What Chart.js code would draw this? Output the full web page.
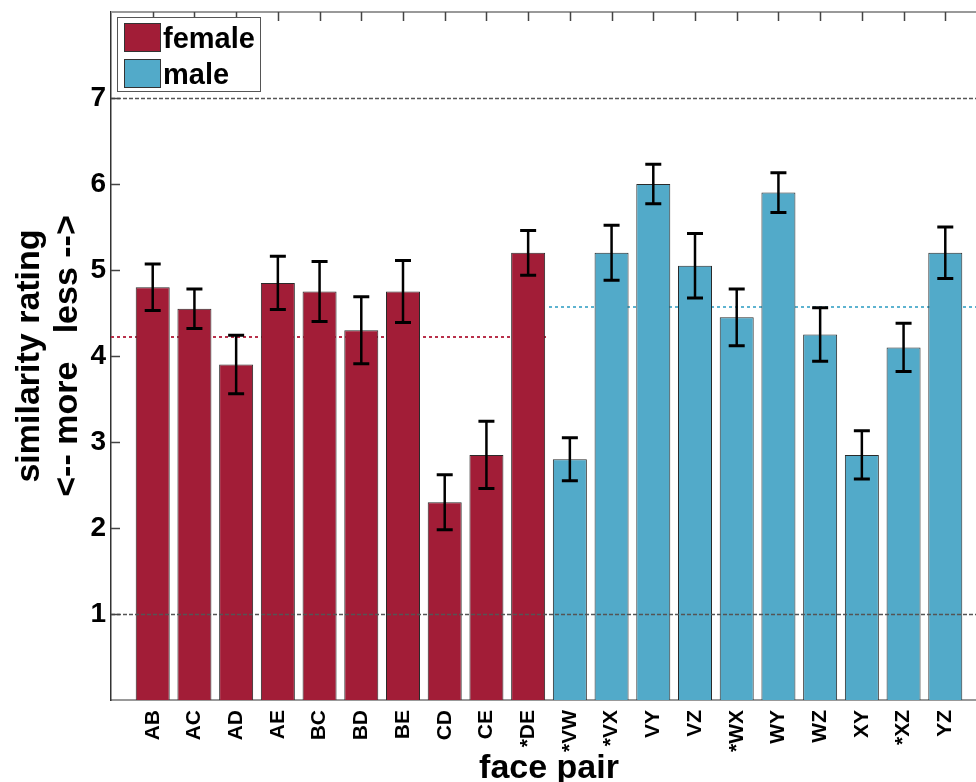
<!DOCTYPE html>
<html>
<head>
<meta charset="utf-8">
<title>face pair similarity</title>
<script src="https://cdn.jsdelivr.net/npm/chart.js@4"></script>
<style>
  html, body { margin: 0; padding: 0; background: #fff; overflow: hidden; }
  #wrap { width: 976px; height: 782px; overflow: hidden; }
</style>
</head>
<body>
<div id="wrap"><canvas id="chart" width="1000" height="800"></canvas></div>
<script>
// face pairs, one group per gender
const femalePairs = ["AB", "AC", "AD", "AE", "BC", "BD", "BE", "CD", "CE", "*DE"];
const malePairs = ["*VW", "*VX", "VY", "VZ", "*WX", "WY", "WZ", "XY", "*XZ", "YZ"];

// mean rating and standard error for each pair
const femaleMeans = [4.8, 4.55, 3.9, 4.85, 4.75, 4.3, 4.75, 2.3, 2.85, 5.2];
const femaleErr = [0.27, 0.23, 0.34, 0.31, 0.35, 0.39, 0.36, 0.32, 0.39, 0.26];
const maleMeans = [2.8, 5.2, 6.0, 5.05, 4.45, 5.9, 4.25, 2.85, 4.1, 5.2];
const maleErr = [0.25, 0.32, 0.23, 0.375, 0.33, 0.23, 0.31, 0.28, 0.28, 0.30];

// group averages (dotted lines) and the scale end points
const femaleAvg = 4.22;
const maleAvg = 4.57;
const refLines = [1, 7];
const yTicks = [1, 2, 3, 4, 5, 6, 7];

const pairs = femalePairs.concat(malePairs);
const RED = "#a21d37";
const BLUE = "#52aac9";

Chart.defaults.font.family = "'Liberation Sans', Arial, sans-serif";
Chart.defaults.font.weight = "bold";
Chart.defaults.color = "#000";

function toPoints(vals, start) {
    return vals.map((v, i) => ({ x: start + i + 1, y: v }));
}

// dotted group-average lines, behind the bars
const avgLines = {
    id: "avgLines",
    beforeDatasetsDraw(chart) {
        const { ctx, scales: { x, y } } = chart;
        const split = femalePairs.length + 0.5;
        const segs = [
            [0, split, femaleAvg, "#b8304a"],
            [split, pairs.length + 1, maleAvg, "#5db3d0"]
        ];
        ctx.save();
        ctx.lineWidth = 2;
        ctx.setLineDash([3, 3]);
        segs.forEach(([a, b, v, c]) => {
            const py = Math.round(y.getPixelForValue(v));
            ctx.strokeStyle = c;
            ctx.beginPath();
            ctx.moveTo(x.getPixelForValue(a), py);
            ctx.lineTo(x.getPixelForValue(b), py);
            ctx.stroke();
        });
        ctx.restore();
    }
};

// error bars, rating-scale end lines, inner ticks, frame and legend
const overlay = {
    id: "overlay",
    afterDatasetsDraw(chart) {
        const { ctx, chartArea: area, scales: { x, y } } = chart;
        ctx.save();

        // 1 and 7 end points of the rating scale
        ctx.strokeStyle = "#555";
        ctx.lineWidth = 1.5;
        ctx.setLineDash([4, 2]);
        refLines.forEach(v => {
            const py = Math.round(y.getPixelForValue(v)) + 0.5;
            ctx.beginPath();
            ctx.moveTo(area.left, py);
            ctx.lineTo(area.right, py);
            ctx.stroke();
        });
        ctx.setLineDash([]);

        // error bars
        const errs = [femaleErr, maleErr];
        chart.data.datasets.forEach((ds, di) => {
            chart.getDatasetMeta(di).data.forEach((bar, i) => {
                const v = ds.data[i].y;
                const e = errs[di][i];
                const top = y.getPixelForValue(v + e);
                const bot = y.getPixelForValue(v - e);
                ctx.strokeStyle = "#000";
                ctx.lineWidth = 2.5;
                ctx.beginPath();
                ctx.moveTo(bar.x, top);
                ctx.lineTo(bar.x, bot);
                ctx.stroke();
                ctx.lineWidth = 3;
                ctx.beginPath();
                ctx.moveTo(bar.x - 8, top);
                ctx.lineTo(bar.x + 8, top);
                ctx.moveTo(bar.x - 8, bot);
                ctx.lineTo(bar.x + 8, bot);
                ctx.stroke();
            });
        });

        // top frame line with inward ticks
        ctx.strokeStyle = "#999";
        ctx.lineWidth = 2;
        ctx.beginPath();
        ctx.moveTo(area.left, area.top);
        ctx.lineTo(area.right, area.top);
        ctx.stroke();
        ctx.strokeStyle = "#444";
        ctx.lineWidth = 1.5;
        ctx.beginPath();
        pairs.forEach((p, i) => {
            const px = Math.round(x.getPixelForValue(i + 1)) + 0.5;
            ctx.moveTo(px, area.top);
            ctx.lineTo(px, area.top + 9);
        });
        yTicks.forEach(v => {
            const py = Math.round(y.getPixelForValue(v)) + 0.5;
            ctx.moveTo(area.left, py);
            ctx.lineTo(area.left + 9, py);
        });
        ctx.stroke();

        // legend box
        const lx = 117, ly = 17;
        ctx.fillStyle = "#fff";
        ctx.fillRect(lx, ly, 143, 74);
        ctx.strokeStyle = "#555";
        ctx.lineWidth = 1;
        ctx.strokeRect(lx + 0.5, ly + 0.5, 143, 74);
        ctx.font = "bold 29px 'Liberation Sans', Arial, sans-serif";
        ctx.textBaseline = "alphabetic";
        chart.data.datasets.forEach((ds, di) => {
            const sy = ly + 6 + di * 36;
            ctx.fillStyle = ds.backgroundColor;
            ctx.fillRect(lx + 7, sy, 36, 28);
            ctx.strokeStyle = "#333";
            ctx.strokeRect(lx + 7.5, sy + 0.5, 36, 28);
            ctx.fillStyle = "#000";
            ctx.fillText(ds.label, lx + 46, sy + 25);
        });
        ctx.restore();
    }
};

new Chart(document.getElementById("chart"), {
    type: "bar",
    data: {
        datasets: [
            {
                label: "female",
                data: toPoints(femaleMeans, 0),
                backgroundColor: RED,
                borderColor: "#2a2a2a",
                borderWidth: 1
            },
            {
                label: "male",
                data: toPoints(maleMeans, femalePairs.length),
                backgroundColor: BLUE,
                borderColor: "#2a2a2a",
                borderWidth: 1
            }
        ]
    },
    options: {
        responsive: false,
        animation: false,
        grouped: false,
        barPercentage: 1,
        categoryPercentage: 0.815,
        layout: { padding: { left: 0, top: 12, right: 13, bottom: 0 } },
        plugins: {
            legend: { display: false },
            tooltip: { enabled: false }
        },
        scales: {
            x: {
                type: "linear",
                offset: false,
                min: 0,
                max: pairs.length + 1,
                grid: { display: false, drawTicks: false },
                border: { color: "#999", width: 2 },
                afterBuildTicks(scale) {
                    scale.ticks = pairs.map((p, i) => ({ value: i + 1 }));
                },
                afterFit(scale) {
                    scale.height = 100;
                    scale.paddingLeft = 0;
                    scale.paddingRight = 0;
                },
                ticks: {
                    autoSkip: false,
                    minRotation: 90,
                    maxRotation: 90,
                    padding: 10,
                    font: { size: 21, weight: "bold" },
                    callback: (v) => pairs[v - 1] || ""
                },
                title: {
                    display: true,
                    text: "face pair",
                    font: { size: 34, weight: "bold" },
                    padding: { top: 0, bottom: 11 }
                }
            },
            y: {
                min: 0,
                max: 8,
                grid: { display: false, drawTicks: false },
                border: { color: "#333", width: 1.5 },
                afterBuildTicks(scale) {
                    scale.ticks = yTicks.map(v => ({ value: v }));
                },
                afterFit(scale) {
                    scale.width = 111;
                    scale.paddingTop = 0;
                    scale.paddingBottom = 0;
                },
                ticks: {
                    padding: 5,
                    font: { size: 28, weight: "bold" }
                },
                title: {
                    display: true,
                    text: ["similarity rating", "<-- more   less -->"],
                    font: { size: 34, weight: "bold", lineHeight: 1.12 },
                    padding: { top: 11, bottom: 0 }
                }
            }
        }
    },
    plugins: [avgLines, overlay]
});
</script>
</body>
</html>
